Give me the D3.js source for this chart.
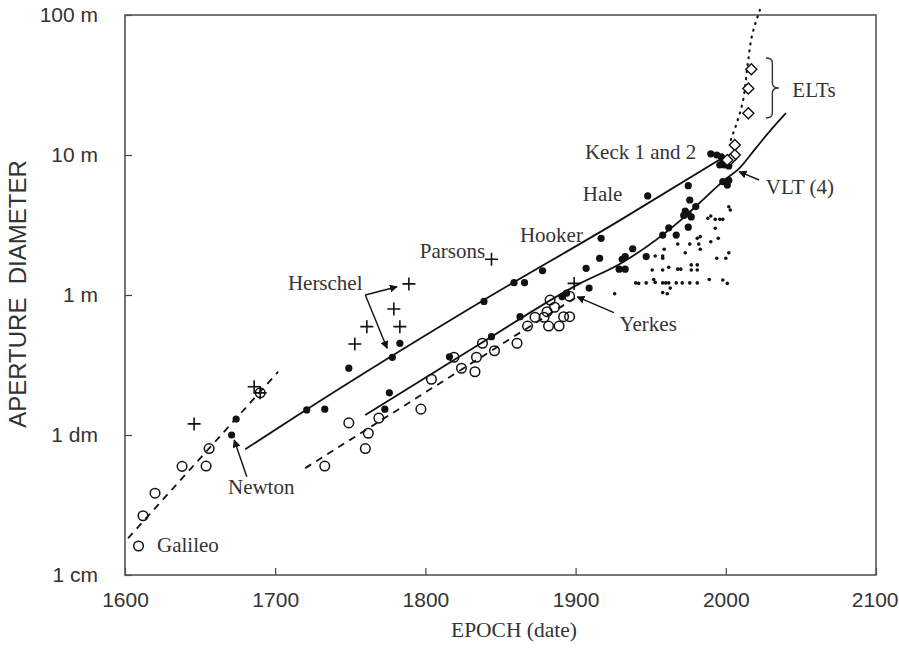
<!DOCTYPE html>
<html><head><meta charset="utf-8">
<script src="https://cdn.jsdelivr.net/npm/d3@7"></script>
<style>body{margin:0;background:#fff} svg{display:block}</style>
</head><body><svg id="c" width="899" height="650"></svg>
<script>
// ---------- data ----------
const xTicks = [1600, 1700, 1800, 1900, 2000, 2100];
const yTicks = [0.01, 0.1, 1, 10, 100];
const yTickLabels = ["1 cm", "1 dm", "1 m", "10 m", "100 m"];

// refractors (open circles): [year, aperture m]
const openCircles = [[1609,0.0161],[1612,0.0265],[1620,0.0384],[1638,0.0597],[1654,0.060],[1656,0.080],
 [1690,0.20],[1733,0.060],[1749,0.122],[1769,0.132],[1762,0.103],[1760,0.080],[1797,0.153],[1804,0.25],
 [1819,0.359],[1824,0.30],[1833,0.283],[1834,0.359],[1838,0.452],[1846,0.40],[1861,0.452],[1868,0.60],
 [1873,0.693],[1879,0.693],[1881,0.76],[1883,0.92],[1886,0.817],[1882,0.60],[1889,0.60],[1892,0.70],
 [1896,0.70],[1896,0.98]];

// reflectors (filled dots)
const filledDots = [[1671,0.10],[1674,0.13],[1721,0.151],[1733,0.153],[1749,0.30],[1778,0.359],[1783,0.452],
 [1776,0.20],[1773,0.153],[1816,0.362],[1844,0.504],[1839,0.90],[1863,0.70],[1859,1.225],[1866,1.225],
 [1878,1.49],[1917,2.54],[1916,1.83],[1907,1.55],[1909,1.12],[1891,0.97],[1894,1.03],[1929,1.53],[1933,1.53],
 [1931,1.80],[1933,1.88],[1938,2.14],[1947,1.88],[1948,5.1],[1958,2.68],[1962,3.02],[1967,2.68],[1975,3.05],
 [1973,3.98],[1975,3.79],[1977,3.61],[1972,3.7],[1975,6.04],[1976,4.77],[1980,4.28],[1990,10.2],[1994,10.0],
 [1997,9.7],[1998,9.06],[1999,8.48],[1996,8.48],[2002,8.35],[1998,6.45],[2001,6.1],[2002,6.6]];

// small modern telescopes (small dots)
const smallDots = [[2002,4.27],[2003,4.05],[1988,3.53],[1990,3.67],[1993,3.47],[1996,3.47],[1998,3.47],[1993,3.0],
 [1981,2.54],[1983,2.61],[1976,2.31],[1982,2.31],[1990,2.40],[1995,2.54],[1968,2.31],[1959,2.12],[1953,1.90],
 [1958,1.90],[1958,1.83],[1973,2.0],[1983,2.12],[2002,2.0],[1994,1.83],[2000,1.83],[1951,1.51],[1958,1.51],
 [1962,1.58],[1968,1.53],[1970,1.53],[1977,1.64],[1981,1.64],[1977,1.51],[1981,1.51],[1940,1.22],[1942,1.21],
 [1947,1.22],[1952,1.29],[1953,1.23],[1958,1.22],[1960,1.22],[1962,1.22],[1967,1.22],[1971,1.22],[1976,1.22],
 [1981,1.22],[1989,1.29],[1998,1.28],[2001,1.21],[1963,1.12],[1958,1.04],[1961,1.02],[1926,1.02]];

// early / Herschel / Parsons specula (plus signs)
const pluses = [[1646,0.12],[1686,0.221],[1690,0.20],[1789,1.2],[1779,0.794],[1761,0.594],[1783,0.594],
 [1753,0.447],[1844,1.80],[1899,1.21]];

// extremely large telescopes (open diamonds)
const diamonds = [[2017,40.9],[2015,29.9],[2015,19.9],[2006,11.8],[2006,10.0],[2003,9.3],[2001,9.2]];

// trend lines
const upperLine = [[1680,0.079],[1717,0.143],[1837,0.895],[1930,3.44],[1999,9.73]];
const lowerLine = [[1760,0.139],[1837,0.452],[1903,1.21],[1930,1.68],[1970,3.43],[1987,5.04],[1999,6.62],
 [2009,8.04],[2020,11.2],[2030,15.1],[2040,19.9]];
const dashedEarly = [[1602,0.0183],[1702,0.283]];
const dashedRefr = [[1720,0.058],[1901,0.973]];
const dottedELT = [[2003.3,12.8],[2011.1,23.4],[2014.4,42.8],[2017.8,74],[2022.7,108.6]];

// annotations: text, [year, m], anchor
const labels = [
 {t:"Galileo", p:[1621.3,0.0164], a:"start"},
 {t:"Newton", p:[1690.7,0.0428], a:"middle"},
 {t:"Herschel", p:[1733.3,1.225], a:"middle"},
 {t:"Parsons", p:[1818,2.06], a:"middle"},
 {t:"Hooker", p:[1883.9,2.71], a:"middle"},
 {t:"Hale", p:[1918,5.27], a:"middle"},
 {t:"Keck 1 and 2", p:[1943.3,10.5], a:"middle"},
 {t:"Yerkes", p:[1948.3,0.62], a:"middle"},
 {t:"VLT (4)", p:[2049.3,5.9], a:"middle"},
 {t:"ELTs", p:[2058.7,29.1], a:"middle"}
];
// arrows: from -> to (arrowhead at "to")
const arrows = [
 [[1681.1,0.0504],[1672.7,0.092]],
 [[1760,1.0],[1781.1,1.146]],
 [[1760,1.0],[1774.5,0.416]],
 [[1925.5,0.748],[1901.1,0.97]],
 [[2022.2,6.63],[2008.9,7.6]]
];
const brace = {x0:2026.7, x1:2035.3, top:49.3, mid:30.1, bottom:18.4};

// ---------- drawing ----------
const L=125, R=876, T=15, B=575;
const svg = d3.select("#c");
const x = d3.scaleLinear().domain([1600,2100]).range([L,R]);
const y = d3.scaleLog().domain([0.01,100]).range([B,T]);
const ink = "#111";
const txt = "#333";
const serif = "'Liberation Serif', 'Times New Roman', serif";
const sans = "'Liberation Sans', Arial, sans-serif";

svg.append("defs").append("marker").attr("id","ah").attr("viewBox","0 0 10 10")
  .attr("refX",9).attr("refY",5).attr("markerWidth",8).attr("markerHeight",8)
  .attr("markerUnits","userSpaceOnUse").attr("orient","auto")
  .append("path").attr("d","M0,0L10,5L0,10z").attr("fill",ink);

// axes
const gx = svg.append("g").attr("transform",`translate(0,${B})`)
  .call(d3.axisBottom(x).tickValues(xTicks).tickFormat(d3.format("d")).tickSizeInner(-7).tickSizeOuter(0).tickPadding(17));
const gy = svg.append("g").attr("transform",`translate(${L},0)`)
  .call(d3.axisLeft(y).tickValues(yTicks).tickFormat((d,i)=>yTickLabels[i]).tickSizeInner(-7).tickSizeOuter(0).tickPadding(27));
[gx,gy].forEach(g=>{
  g.select(".domain").remove();
  g.selectAll(".tick line").attr("stroke","#444").attr("stroke-width",1.2);
  g.selectAll(".tick text").attr("fill","#333").style("font-family",sans).style("font-size","21px");
});
// keep the last x label inside the page
gx.selectAll(".tick text").filter(d=>d===xTicks[xTicks.length-1]).attr("text-anchor","end").attr("dx",22);

svg.append("rect").attr("x",L).attr("y",T).attr("width",R-L).attr("height",B-T)
  .attr("fill","none").attr("stroke","#555").attr("stroke-width",1.6);

svg.append("text").attr("x",514).attr("y",637).attr("text-anchor","middle")
  .style("font-family",serif).style("font-size","21.5px").attr("fill",txt)
  .text("EPOCH (date)");
svg.append("text").attr("transform","translate(26,294) rotate(-90)").attr("text-anchor","middle")
  .style("font-family",sans).style("font-size","24px").attr("fill",txt)
  .text("APERTURE\u00A0\u00A0DIAMETER");

// lines
const line = d3.line().x(d=>x(d[0])).y(d=>y(d[1]));
svg.append("path").attr("d",line.curve(d3.curveMonotoneX)(upperLine)).attr("fill","none").attr("stroke",ink).attr("stroke-width",1.8);
svg.append("path").attr("d",line.curve(d3.curveMonotoneX)(lowerLine)).attr("fill","none").attr("stroke",ink).attr("stroke-width",1.8);
svg.append("path").attr("d",line.curve(d3.curveLinear)(dashedEarly)).attr("fill","none").attr("stroke",ink).attr("stroke-width",1.8).attr("stroke-dasharray","7,6");
svg.append("path").attr("d",line.curve(d3.curveLinear)(dashedRefr)).attr("fill","none").attr("stroke",ink).attr("stroke-width",1.8).attr("stroke-dasharray","7,6");
svg.append("path").attr("d",line.curve(d3.curveMonotoneY)(dottedELT)).attr("fill","none").attr("stroke",ink).attr("stroke-width",2.2).attr("stroke-linecap","round").attr("stroke-dasharray","1,6");

// markers
svg.append("g").selectAll("circle").data(smallDots).join("circle")
  .attr("cx",d=>x(d[0])).attr("cy",d=>y(d[1])).attr("r",1.8).attr("fill",ink);
svg.append("g").selectAll("circle").data(openCircles).join("circle")
  .attr("cx",d=>x(d[0])).attr("cy",d=>y(d[1])).attr("r",4.8).attr("fill","none").attr("stroke",ink).attr("stroke-width",1.5);
svg.append("g").selectAll("circle").data(filledDots).join("circle")
  .attr("cx",d=>x(d[0])).attr("cy",d=>y(d[1])).attr("r",3.6).attr("fill",ink);
svg.append("g").selectAll("path").data(pluses).join("path")
  .attr("d",d=>{const cx=x(d[0]),cy=y(d[1]),s=6.5;return `M${cx-s},${cy}H${cx+s}M${cx},${cy-s}V${cy+s}`;})
  .attr("stroke",ink).attr("stroke-width",1.6);
svg.append("g").selectAll("path").data(diamonds).join("path")
  .attr("d",d=>{const cx=x(d[0]),cy=y(d[1]),s=5.5;return `M${cx},${cy-s}L${cx+s},${cy}L${cx},${cy+s}L${cx-s},${cy}Z`;})
  .attr("fill","#fff").attr("stroke",ink).attr("stroke-width",1.4);

// arrows
svg.append("g").selectAll("line").data(arrows).join("line")
  .attr("x1",d=>x(d[0][0])).attr("y1",d=>y(d[0][1])).attr("x2",d=>x(d[1][0])).attr("y2",d=>y(d[1][1]))
  .attr("stroke",ink).attr("stroke-width",1.4).attr("marker-end","url(#ah)");

// brace
{
  const x0=x(brace.x0), x1=x(brace.x1), xm=(x0+x1)/2, yt=y(brace.top), ym=y(brace.mid), yb=y(brace.bottom), r=5;
  const d=`M${x0},${yt} Q${xm},${yt} ${xm},${yt+r} L${xm},${ym-r} Q${xm},${ym} ${x1},${ym} Q${xm},${ym} ${xm},${ym+r} L${xm},${yb-r} Q${xm},${yb} ${x0},${yb}`;
  svg.append("path").attr("d",d).attr("fill","none").attr("stroke",txt).attr("stroke-width",1.4);
}

// labels
svg.append("g").selectAll("text").data(labels).join("text")
  .attr("x",d=>x(d.p[0])).attr("y",d=>y(d.p[1])).attr("dy","0.35em").attr("text-anchor",d=>d.a)
  .style("font-family",serif).style("font-size","21px").attr("fill",txt)
  .text(d=>d.t);
</script></body></html>
